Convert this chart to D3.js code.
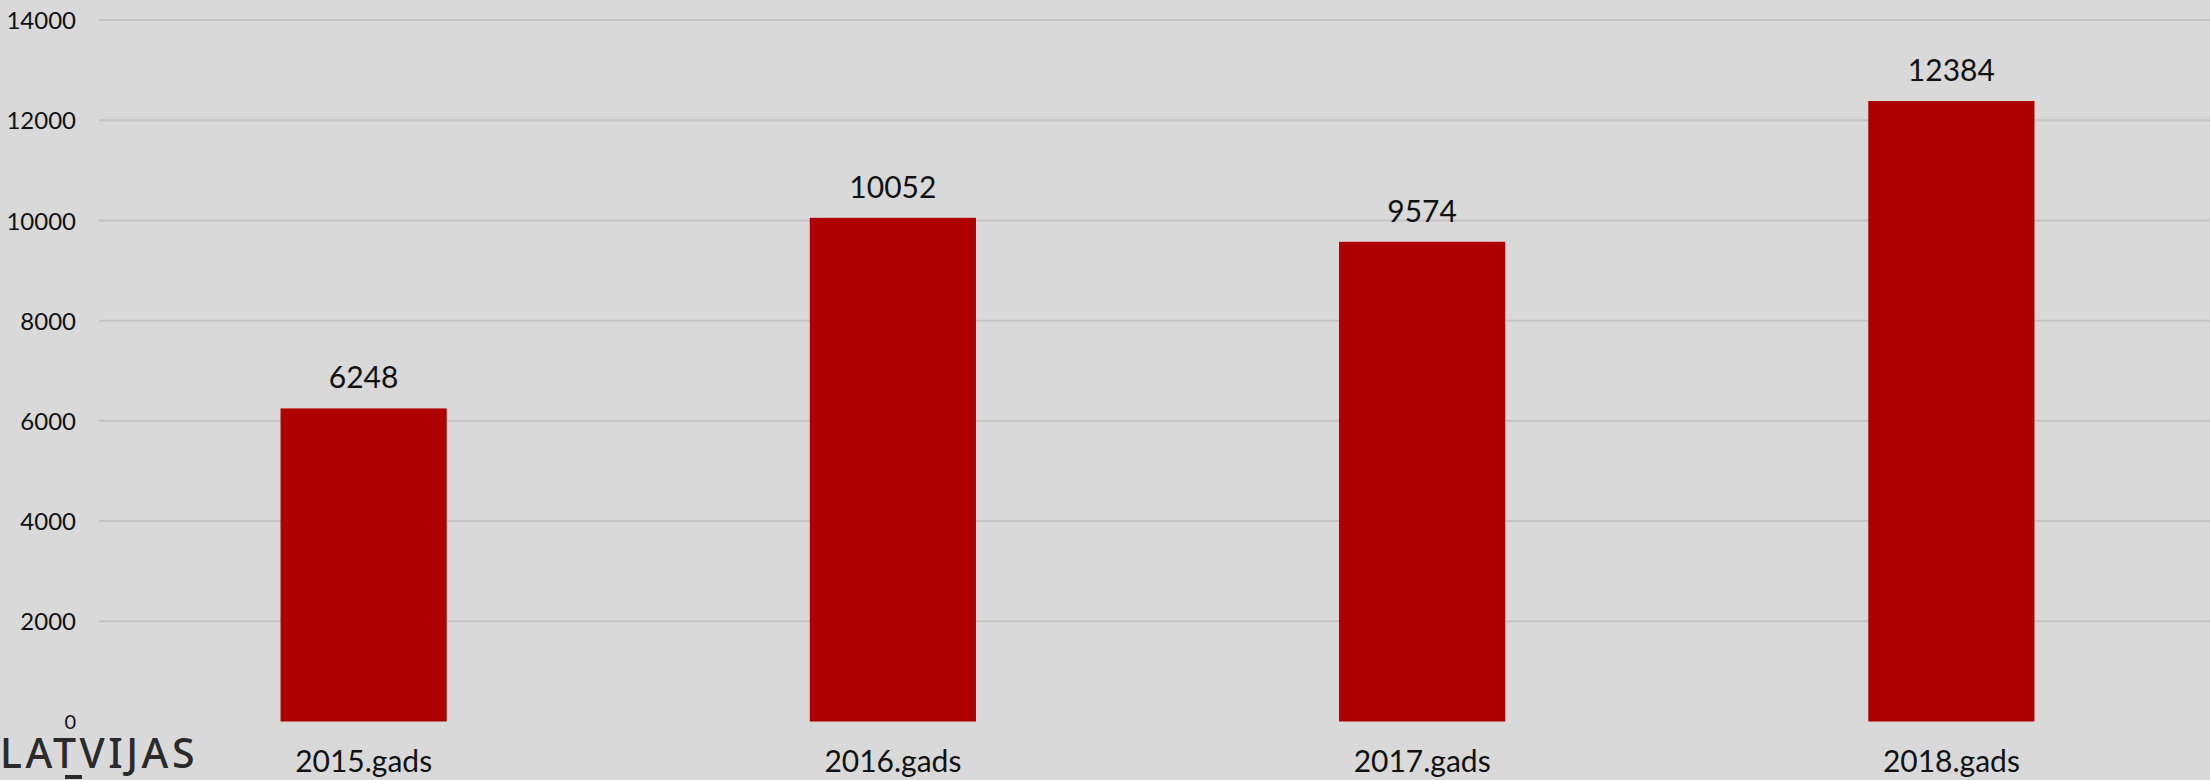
<!DOCTYPE html>
<html>
<head>
<meta charset="utf-8">
<script src="https://cdn.jsdelivr.net/npm/d3@7"></script>
<style>
html,body{margin:0;padding:0;background:#d9d9d9;}
svg{display:block;}
</style>
</head>
<body>
<svg id="chart" width="2210" height="780"></svg>
<script>
const categories = ["2015.gads", "2016.gads", "2017.gads", "2018.gads"];
const values = [6248, 10052, 9574, 12384];
const yTicks = [0, 2000, 4000, 6000, 8000, 10000, 12000, 14000];

const W = 2210, H = 780;
const svg = d3.select("#chart");
svg.append("rect").attr("width", W).attr("height", H).attr("fill", "#d9d9d9");

const font = "Lato, 'Open Sans', sans-serif";
const x = d3.scaleBand().domain(categories).range([99, 2216]).paddingInner(0).paddingOuter(0);
const y = d3.scaleLinear().domain([0, 14000]).range([721.5, 20]);
const barW = x.bandwidth() * 0.314;

// gridlines
svg.append("g").selectAll("line").data(yTicks.filter(d => d > 0)).join("line")
  .attr("x1", 99).attr("x2", W)
  .attr("y1", d => y(d)).attr("y2", d => y(d))
  .attr("stroke", "#c3c3c3").attr("stroke-width", 2);

// y axis
const yAxis = d3.axisLeft(y).tickValues(yTicks).tickSize(0).tickPadding(0).tickFormat(d3.format("d"));
const gy = svg.append("g").attr("transform", "translate(76,0)").call(yAxis);
gy.attr("font-size", null).attr("font-family", null);
gy.select(".domain").remove();
gy.selectAll("text")
  .style("font-family", font)
  .style("font-size", d => (d === 0 ? 20 : 24) + "px")
  .attr("fill", "#111")
  .attr("dy", "0.36em");

// bars
svg.append("g").selectAll("rect").data(values).join("rect")
  .attr("x", (d, i) => x(categories[i]) + x.bandwidth() / 2 - barW / 2)
  .attr("width", barW)
  .attr("y", d => y(d))
  .attr("height", d => y(0) - y(d))
  .attr("fill", "#ae0000");

// value labels
svg.append("g").selectAll("text").data(values).join("text")
  .attr("x", (d, i) => x(categories[i]) + x.bandwidth() / 2)
  .attr("y", d => y(d) - 20)
  .attr("text-anchor", "middle")
  .style("font-family", font).style("font-size", "30px").attr("fill", "#111")
  .text(d => d);

// x axis
const xAxis = d3.axisBottom(x).tickSize(0).tickPadding(0);
const gx = svg.append("g").call(xAxis);
gx.attr("font-size", null).attr("font-family", null);
gx.select(".domain").remove();
gx.selectAll("text")
  .style("font-family", font).style("font-size", "30px").attr("fill", "#111")
  .attr("y", 772).attr("dy", null);

// logo
svg.append("text").attr("x", 0).attr("y", 768)
  .style("font-family", "'Noto Sans', 'Open Sans', sans-serif").style("font-size", "41px")
  .style("font-weight", 500)
  .attr("fill", "#2a2a2a").attr("letter-spacing", 3.5)
  .text("LATVIJAS");
svg.append("rect").attr("x", 65).attr("y", 775).attr("width", 17).attr("height", 4).attr("fill", "#2a2a2a");
</script>
</body>
</html>
